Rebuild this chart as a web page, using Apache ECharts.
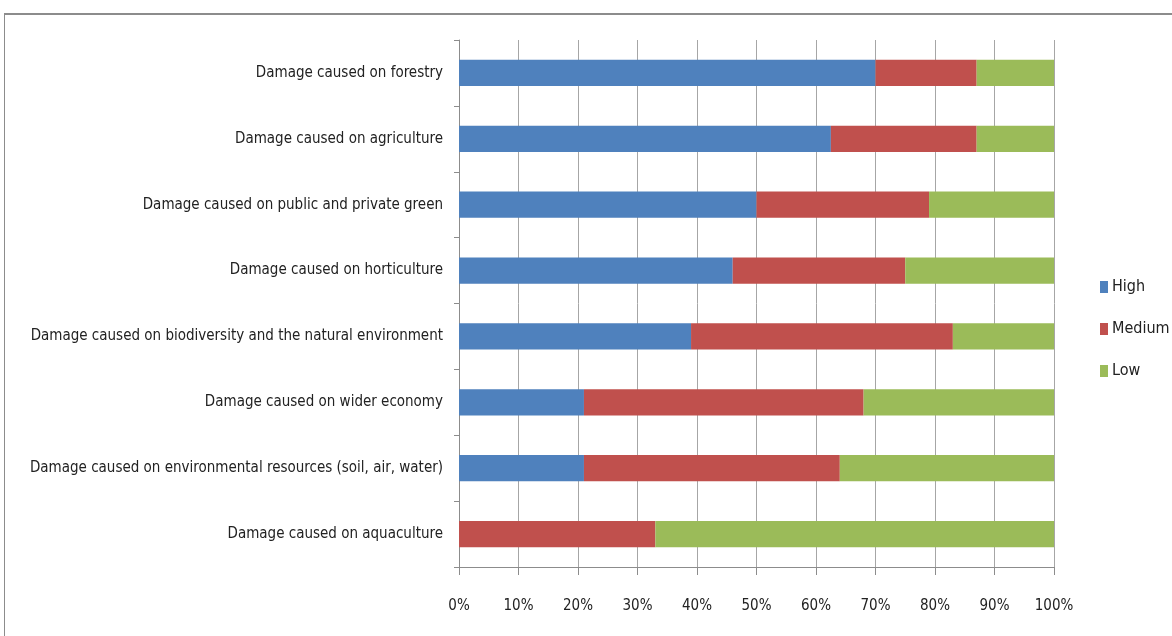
<!DOCTYPE html>
<html>
<head>
<meta charset="utf-8">
<script src="https://cdn.jsdelivr.net/npm/echarts@6/dist/echarts.min.js"></script>
<style>
  html, body { margin:0; padding:0; background:#fff; }
  #chart { width:1172px; height:636px; }
</style>
</head>
<body>
<div id="chart"></div>
<script>
const categories = [
  'Damage caused on forestry',
  'Damage caused on agriculture',
  'Damage caused on public and private green',
  'Damage caused on horticulture',
  'Damage caused on biodiversity and the natural environment',
  'Damage caused on wider economy',
  'Damage caused on environmental resources (soil, air, water)',
  'Damage caused on aquaculture'
];
const high   = [70, 62.5, 50, 46, 39, 21, 21, 0];
const medium = [17, 24.5, 29, 29, 44, 47, 43, 33];
const low    = [13, 13,   21, 25, 17, 32, 36, 67];
const xTicks = [0, 10, 20, 30, 40, 50, 60, 70, 80, 90, 100];

const font = "'DejaVu Sans Condensed', sans-serif";

const c = echarts.init(document.getElementById('chart'));
c.setOption({
  animation: false,
  textStyle: { fontFamily: font },
  graphic: [
    { type:'line', shape:{ x1:4, y1:14, x2:1172, y2:14 }, style:{ stroke:'#8c8c8c', lineWidth:2 } },
    { type:'line', shape:{ x1:4.5, y1:14, x2:4.5, y2:636 }, style:{ stroke:'#8c8c8c', lineWidth:1 } }
  ],
  grid: { left:459, right:118, top:40, bottom:69, containLabel:false, outerBoundsMode:'none' },
  legend: {
    orient:'vertical', left:1100, top:279,
    itemWidth:8, itemHeight:12, itemGap:26, padding:0,
    icon:'rect',
    textStyle:{ fontFamily:font, fontSize:16, color:'#222', padding:[0,0,0,-1], lineHeight:16 },
    data:['High','Medium','Low']
  },
  xAxis: {
    type:'value', min:0, max:100, interval:10,
    axisLine:{ show:true, lineStyle:{ color:'#8c8c8c' } },
    axisTick:{ show:true, length:8, lineStyle:{ color:'#8c8c8c' } },
    splitLine:{ show:true, lineStyle:{ color:'#a6a6a6' } },
    axisLabel:{ margin:32, fontSize:15, color:'#222', fontFamily:font,
      formatter: v => xTicks.includes(v) ? v + '%' : '' }
  },
  yAxis: {
    type:'category', data:categories, inverse:true,
    axisLine:{ show:true, lineStyle:{ color:'#8c8c8c' } },
    axisTick:{ show:true, length:5, lineStyle:{ color:'#8c8c8c' } },
    axisLabel:{ margin:16, fontSize:15, color:'#222', fontFamily:font }
  },
  series: [
    { name:'High', type:'bar', stack:'all', data:high, barWidth:'40%', itemStyle:{ color:'#4F81BD' } },
    { name:'Medium', type:'bar', stack:'all', data:medium, itemStyle:{ color:'#C0504D' } },
    { name:'Low', type:'bar', stack:'all', data:low, itemStyle:{ color:'#9BBB59' } }
  ]
});
</script>
</body>
</html>
